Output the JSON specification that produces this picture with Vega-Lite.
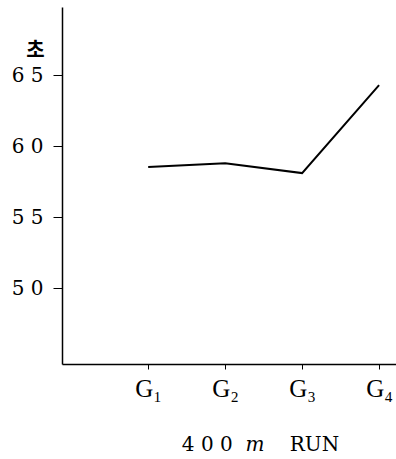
{
  "$schema": "https://vega.github.io/schema/vega-lite/v6.json",
  "width": 334,
  "height": 357,
  "autosize": {"type": "none"},
  "padding": {"left": 62, "top": 7, "right": 0, "bottom": 95},
  "background": "white",
  "config": {"view": {"stroke": null}},
  "data": {
    "values": [
      {"group": "G₁", "order": 1, "seconds": 58.52},
      {"group": "G₂", "order": 2, "seconds": 58.8},
      {"group": "G₃", "order": 3, "seconds": 58.1},
      {"group": "G₄", "order": 4, "seconds": 64.3}
    ]
  },
  "mark": {"type": "line", "color": "black", "strokeWidth": 2},
  "encoding": {
    "x": {
      "field": "order",
      "type": "quantitative",
      "scale": {"domain": [-0.12, 4.22], "nice": false, "zero": false},
      "axis": {
        "values": [1, 2, 3, 4],
        "labelExpr": "'G' + ['₁','₂','₃','₄'][datum.value - 1]",
        "grid": false,
        "domainColor": "black",
        "domainWidth": 1.5,
        "tickColor": "black",
        "tickSize": 5,
        "labelFont": "Liberation Serif",
        "labelFontSize": 25,
        "labelColor": "black",
        "labelPadding": 7,
        "title": "4\u00a00\u00a00\u00a0\u00a0𝑚\u00a0\u00a0\u00a0\u00a0RUN",
        "titleFont": "DejaVu Serif",
        "titleFontSize": 20,
        "titleFontWeight": "normal",
        "titleColor": "black",
        "titleX": 198,
        "titleY": 86,
        "titleBaseline": "alphabetic"
      }
    },
    "y": {
      "field": "seconds",
      "type": "quantitative",
      "scale": {"domain": [44.65, 69.8], "nice": false, "zero": false},
      "axis": {
        "values": [50, 55, 60, 65],
        "labelExpr": "substring(datum.label, 0, 1) + '\u00a0' + substring(datum.label, 1)",
        "grid": false,
        "domainColor": "black",
        "domainWidth": 1.5,
        "tickColor": "black",
        "tickSize": 9,
        "labelFont": "DejaVu Serif",
        "labelFontSize": 20,
        "labelColor": "black",
        "labelPadding": 10,
        "title": "초",
        "titleAngle": 0,
        "titleFont": "Noto Sans CJK KR",
        "titleFontSize": 20,
        "titleFontWeight": "bold",
        "titleColor": "black",
        "titleX": -27,
        "titleY": 43,
        "titleAlign": "center",
        "titleBaseline": "middle"
      }
    }
  }
}
